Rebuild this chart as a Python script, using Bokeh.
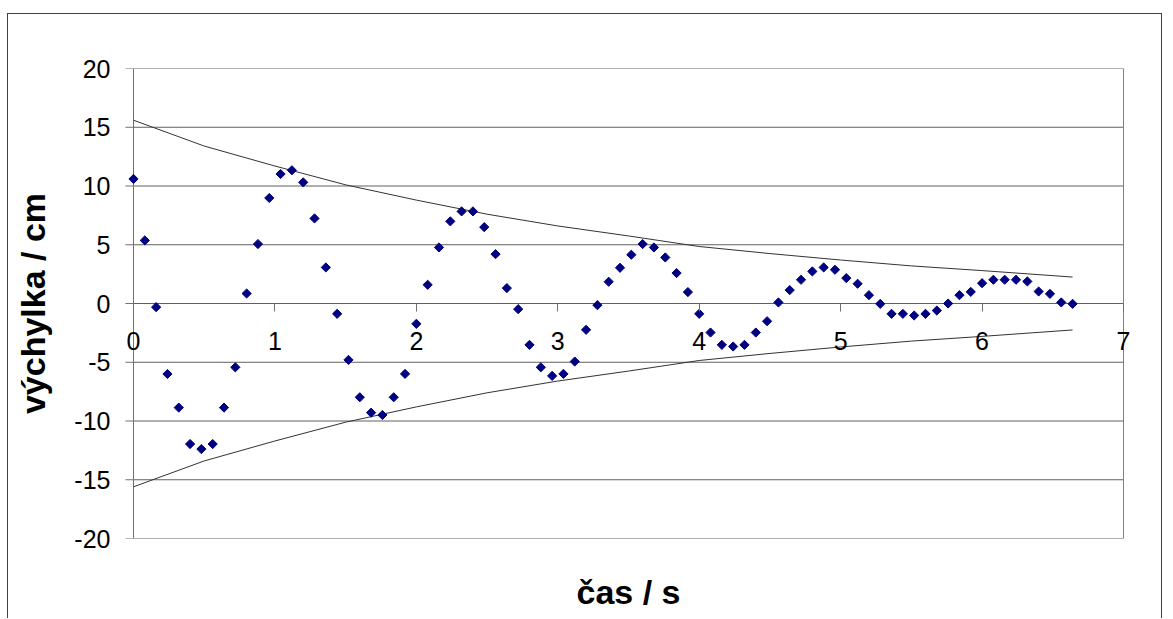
from bokeh.plotting import figure
from bokeh.models import FixedTicker, Range1d, LinearAxis
from bokeh.embed import file_html
from bokeh.resources import INLINE

# measured displacement (cm) vs time (s)
times = [0.00, 0.08, 0.16, 0.24, 0.32, 0.40, 0.48, 0.56, 0.64, 0.72,
         0.80, 0.88, 0.96, 1.04, 1.12, 1.20, 1.28, 1.36, 1.44, 1.52,
         1.60, 1.68, 1.76, 1.84, 1.92, 2.00, 2.08, 2.16, 2.24, 2.32,
         2.40, 2.48, 2.56, 2.64, 2.72, 2.80, 2.88, 2.96, 3.04, 3.12,
         3.20, 3.28, 3.36, 3.44, 3.52, 3.60, 3.68, 3.76, 3.84, 3.92,
         4.00, 4.08, 4.16, 4.24, 4.32, 4.40, 4.48, 4.56, 4.64, 4.72,
         4.80, 4.88, 4.96, 5.04, 5.12, 5.20, 5.28, 5.36, 5.44, 5.52,
         5.60, 5.68, 5.76, 5.84, 5.92, 6.00, 6.08, 6.16, 6.24, 6.32,
         6.40, 6.48, 6.56, 6.64]
displacement = [10.6, 5.37, -0.31, -6.0, -8.86, -11.96, -12.39, -11.96, -8.86, -5.43,
                0.85, 5.06, 8.98, 11.02, 11.34, 10.31, 7.24, 3.07, -0.88, -4.8,
                -7.98, -9.29, -9.49, -7.98, -5.99, -1.73, 1.59, 4.77, 6.99, 7.84,
                7.84, 6.5, 4.2, 1.31, -0.48, -3.52, -5.43, -6.16, -5.99, -4.94,
                -2.24, -0.14, 1.85, 3.04, 4.15, 5.06, 4.77, 3.92, 2.59, 0.97,
                -0.88, -2.47, -3.52, -3.66, -3.52, -2.47, -1.51, 0.09, 1.14, 2.02,
                2.73, 3.07, 2.87, 2.16, 1.68, 0.71, -0.03, -0.88, -0.88, -1.02,
                -0.88, -0.6, 0.0, 0.71, 0.99, 1.73, 2.02, 2.02, 2.02, 1.88,
                1.02, 0.82, 0.09, -0.03]

# envelope curves
env_t = [0.0, 0.5, 1.0, 1.5, 2.0, 2.5, 3.0, 3.5, 4.0, 4.5, 5.0, 5.5, 6.0, 6.64]
env_upper = [15.6, 13.4, 11.7, 10.1, 8.8, 7.6, 6.6, 5.75, 4.85, 4.25, 3.7, 3.2, 2.8, 2.25]
env_lower = [-15.6, -13.4, -11.7, -10.1, -8.8, -7.6, -6.6, -5.75, -4.85, -4.25, -3.7, -3.2, -2.8, -2.25]

x_ticks = [0, 1, 2, 3, 4, 5, 6, 7]
y_ticks = [-20, -15, -10, -5, 0, 5, 10, 15, 20]
y_tick_labels = ["-20", "-15", "-10", "-5", "0", "5", "10", "15", "20"]

X_MIN, X_MAX = 0, 7
Y_MIN, Y_MAX = -20, 20

FONT = "Liberation Sans"
AXIS_GREY = "#707070"
GRID_GREY = "#606060"

PLOT_W = 990                      # pixel width of the 0..7 area
PXU = PLOT_W / (X_MAX - X_MIN)    # pixels per second
PAD = 14                          # frame padding so edge labels/markers are not clipped
TICK = 8                          # tick length in px

p = figure(width=1155, height=605, output_backend="svg", toolbar_location=None,
           x_range=Range1d(X_MIN - PAD / PXU, X_MAX + PAD / PXU),
           y_range=Range1d(Y_MIN, Y_MAX),
           min_border_left=125 - PAD, min_border_right=40 - PAD,
           min_border_top=54, min_border_bottom=81)
p.styles = {"margin-left": "7px", "margin-top": "13px",
            "border-top": "1px solid #404040", "border-left": "1px solid #404040",
            "border-right": "1px solid #404040"}
p.background_fill_color = "white"
p.border_fill_color = "white"
p.outline_line_color = None
p.xgrid.visible = False
p.ygrid.visible = False

# horizontal gridlines spanning the plot area only
p.segment(x0=[X_MIN] * len(y_ticks), y0=y_ticks, x1=[X_MAX] * len(y_ticks), y1=y_ticks,
          line_color=GRID_GREY, line_width=1)
# plot area right border
p.segment(x0=[X_MAX], y0=[Y_MIN], x1=[X_MAX], y1=[Y_MAX], line_color="#808080", line_width=1)
# y axis line and ticks at x = 0
p.segment(x0=[X_MIN], y0=[Y_MIN], x1=[X_MIN], y1=[Y_MAX], line_color=AXIS_GREY, line_width=1)
p.segment(x0=[X_MIN - TICK / PXU] * len(y_ticks), y0=y_ticks,
          x1=[X_MIN] * len(y_ticks), y1=y_ticks, line_color=AXIS_GREY, line_width=1)

# y axis: labels and title only
p.yaxis.ticker = FixedTicker(ticks=y_ticks)
p.yaxis.major_label_overrides = dict(zip(y_ticks, y_tick_labels))
p.yaxis.axis_line_color = None
p.yaxis.major_tick_line_color = None
p.yaxis.major_tick_in = 0
p.yaxis.major_tick_out = 0
p.yaxis.minor_tick_line_color = None
p.yaxis.major_label_standoff = 9
p.yaxis.major_label_text_font = FONT
p.yaxis.major_label_text_font_size = "25px"
p.yaxis.major_label_text_color = "black"
p.yaxis.axis_label = "výchylka / cm"
p.yaxis.axis_label_text_font = FONT
p.yaxis.axis_label_text_font_style = "bold"
p.yaxis.axis_label_text_font_size = "34px"
p.yaxis.axis_label_text_color = "black"
p.yaxis.axis_label_standoff = 19

# x axis crossing at y = 0
xa = p.xaxis[0]
xa.fixed_location = 0
xa.ticker = FixedTicker(ticks=x_ticks)
xa.axis_line_color = None
xa.major_tick_line_color = AXIS_GREY
xa.major_tick_in = 0
xa.major_tick_out = TICK
xa.minor_tick_line_color = None
xa.major_label_standoff = 20
xa.major_label_text_font = FONT
xa.major_label_text_font_size = "25px"
xa.major_label_text_color = "black"

# x axis title at the bottom
xt = LinearAxis(ticker=FixedTicker(ticks=[]), axis_line_color=None,
                major_tick_line_color=None, minor_tick_line_color=None,
                major_tick_out=0, major_label_standoff=0,
                axis_label="čas / s", axis_label_text_font=FONT,
                axis_label_text_font_style="bold", axis_label_text_font_size="34px",
                axis_label_text_color="black", axis_label_standoff=34)
p.add_layout(xt, "below")

# envelopes
p.line(env_t, env_upper, line_color="#333333", line_width=1)
p.line(env_t, env_lower, line_color="#333333", line_width=1)

# data points
p.scatter(times, displacement, marker="square", angle=0.785398, size=6.5,
          fill_color="#000080", line_color="#000080")

open("out.html", "w").write(file_html(p, INLINE))
